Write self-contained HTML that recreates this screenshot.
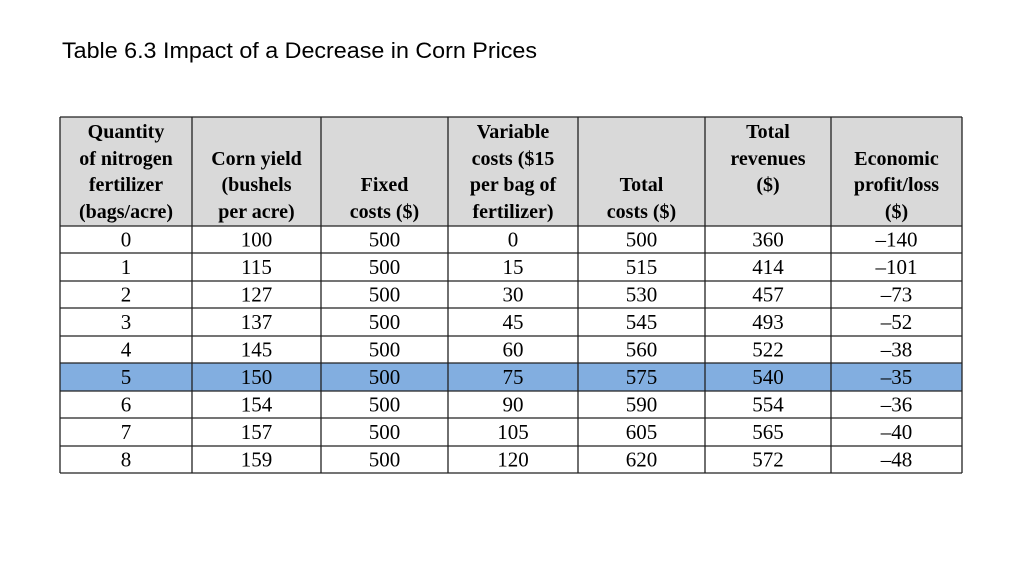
<!DOCTYPE html>
<html><head><meta charset="utf-8"><style>
html,body{margin:0;padding:0;background:#fff;}
svg{display:block;}
</style></head><body>
<svg id="s" width="1024" height="576" viewBox="0 0 1024 576" xmlns="http://www.w3.org/2000/svg">
<text x="62" y="58" font-family="Liberation Sans, sans-serif" font-size="22" textLength="475" lengthAdjust="spacingAndGlyphs" fill="#000">Table 6.3  Impact of a Decrease in Corn Prices</text>
</svg>
<script>
const colX=[60,192,321,448,578,705,831,962];
const rowY=[226,253,281,308,336,363,391,418,446,473];
const headers=[
 ["Quantity","of nitrogen","fertilizer","(bags/acre)"],
 [null,"Corn yield","(bushels","per acre)"],
 [null,null,"Fixed","costs ($)"],
 ["Variable","costs ($15","per bag of","fertilizer)"],
 [null,null,"Total","costs ($)"],
 ["Total","revenues","($)",null],
 [null,"Economic","profit/loss","($)"]
];
const quantity=[0,1,2,3,4,5,6,7,8];
const yieldVals=[100,115,127,137,145,150,154,157,159];
const fixedCosts=[500,500,500,500,500,500,500,500,500];
const variableCosts=[0,15,30,45,60,75,90,105,120];
const totalCosts=[500,515,530,545,560,575,590,605,620];
const revenues=[360,414,457,493,522,540,554,565,572];
const profit=[-140,-101,-73,-52,-38,-35,-36,-40,-48];
const highlightRow=5;
const NS="http://www.w3.org/2000/svg";
const s=document.getElementById('s');
function el(t,a){const e=document.createElementNS(NS,t);for(const k in a)e.setAttribute(k,a[k]);s.appendChild(e);return e;}
const hb=el('rect',{x:60,y:117,width:902,height:109,fill:'#d9d9d9'});


const hl=el('rect',{x:60,y:rowY[highlightRow],width:902,height:rowY[highlightRow+1]-rowY[highlightRow],fill:'#82aee0'});


const lineYs=[138,165,191,218];
headers.forEach((h,c)=>{
 const cx=(colX[c]+colX[c+1])/2;
 h.forEach((t,i)=>{if(!t)return;
  const e=el('text',{x:cx,y:lineYs[i],'text-anchor':'middle','font-family':'Liberation Serif, serif','font-size':'20','font-weight':'bold',fill:'#000'});
  e.textContent=t;
  
  
 });
});
const cols=[quantity,yieldVals,fixedCosts,variableCosts,totalCosts,revenues,profit];
for(let r=0;r<quantity.length;r++){
 cols.forEach((arr,c)=>{
  const cx=(colX[c]+colX[c+1])/2;
  const v=arr[r];
  const e=el('text',{x:cx,y:(rowY[r]+rowY[r+1])/2+7,'text-anchor':'middle','font-family':'Liberation Serif, serif','font-size':'21',fill:'#000'});
  e.textContent=v<0?'\u2013'+(-v):String(v);
  
  
 });
}
colX.forEach(x=>{const l=el('line',{x1:x,y1:117,x2:x,y2:473,stroke:'#222','stroke-width':1.3});
 
 });
[117].concat(rowY).forEach(y=>{const l=el('line',{x1:60,y1:y,x2:962,y2:y,stroke:'#222','stroke-width':1.3});
 
 });
</script>
</body></html>
